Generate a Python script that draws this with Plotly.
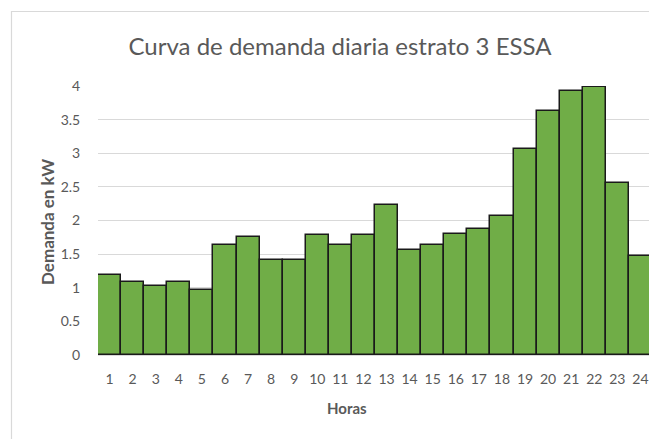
import plotly.graph_objects as go

horas = [str(h) for h in range(1, 25)]
demanda = [1.19, 1.08, 1.03, 1.08, 0.97, 1.63, 1.76, 1.42, 1.42, 1.79, 1.63, 1.79,
           2.23, 1.56, 1.63, 1.80, 1.87, 2.07, 3.07, 3.63, 3.92, 3.98, 2.56, 1.47]
y_ticks = [0, 0.5, 1, 1.5, 2, 2.5, 3, 3.5, 4]
y_tick_labels = ["0", "0.5", "1", "1.5", "2", "2.5", "3", "3.5", "4"]

# page has an 8px body margin; work in page pixel coordinates and shift
OFF = 8
W, H = 657 - OFF, 439 - OFF
L, R, T, B = 98 - OFF, 5, 86 - OFF, 84
pw, ph = W - L - R, H - T - B

def px(x):
    return (x - OFF - L) / pw

def py(y):
    return 1 - (y - OFF - T) / ph

fig = go.Figure(go.Bar(
    x=horas, y=demanda,
    marker=dict(color="#70AD47", line=dict(color="#1a1a1a", width=1.5)),
))

font = "Lato, 'Open Sans', sans-serif"
fig.update_layout(
    width=W, height=H,
    margin=dict(l=L, r=R, t=T, b=B),
    paper_bgcolor="white", plot_bgcolor="white",
    bargap=0, showlegend=False,
    font=dict(family=font, color="#595959"),
    title=dict(text="Curva de demanda diaria estrato 3 ESSA", x=(340 - OFF) / W, xanchor="center",
               y=1 - (47 - OFF) / H, yanchor="middle", xref="container", yref="container",
               font=dict(size=24, color="#595959", family=font)),
    xaxis=dict(type="category", showgrid=False, showline=True, linecolor="#d9d9d9",
               ticks="outside", ticklen=11, tickcolor="rgba(0,0,0,0)",
               tickfont=dict(size=14, color="#595959")),
    yaxis=dict(range=[0, 4.0], tickvals=y_ticks, ticktext=y_tick_labels,
               showgrid=True, gridcolor="#d9d9d9", gridwidth=1, zeroline=False,
               ticks="outside", ticklen=14, tickcolor="rgba(0,0,0,0)",
               tickfont=dict(size=14, color="#595959")),
    shapes=[dict(type="rect", xref="paper", yref="paper",
                 x0=px(11.5), x1=px(720), y0=py(11.5), y1=py(480),
                 line=dict(color="#d9d9d9", width=1.2), fillcolor="rgba(0,0,0,0)", layer="below")],
    annotations=[
        dict(text="<b>Horas</b>", xref="paper", yref="paper", x=px(347), y=py(408),
             xanchor="center", yanchor="middle", showarrow=False,
             font=dict(size=15, color="#595959", family=font)),
        dict(text="<b>Demanda en kW</b>", xref="paper", yref="paper", x=px(47), y=py(222),
             xanchor="center", yanchor="middle", showarrow=False, textangle=-90,
             font=dict(size=17, color="#595959", family=font)),
    ],
)

fig.write_html("out.html")
